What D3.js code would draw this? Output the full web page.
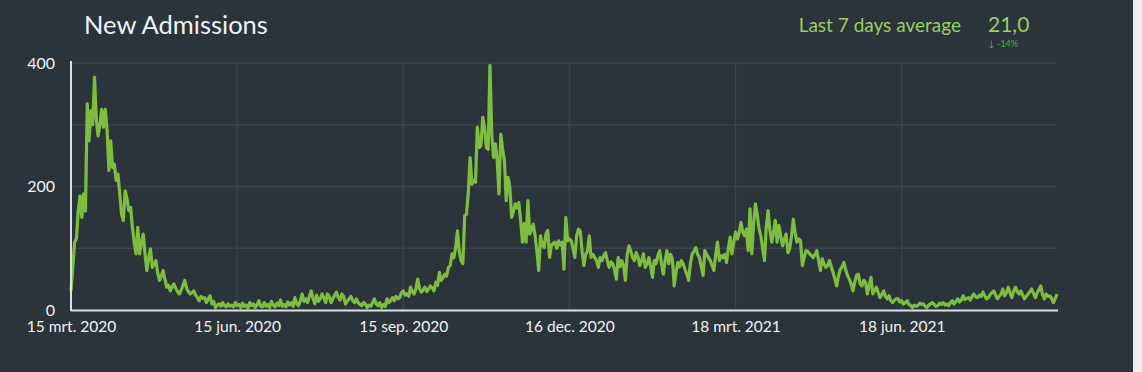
<!DOCTYPE html>
<html>
<head>
<meta charset="utf-8">
<script src="https://cdn.jsdelivr.net/npm/d3@7"></script>
<style>
  html, body { margin: 0; padding: 0; background: #eeeeee; }
  svg { display: block; font-family: Lato, "Open Sans", sans-serif; }
</style>
</head>
<body>
<svg id="chart" width="1142" height="372"></svg>
<script>
// daily new admissions, starting 15 mrt. 2020
const startDate = "2020-03-15";
const admissions = [
  31,70,110,115,160,185,150,188,160,334,
  274,323,300,377,310,282,300,325,296,325,
  290,226,274,231,236,210,220,188,155,145,
  193,180,161,166,134,110,91,134,91,110,
  123,90,64,85,99,69,75,80,60,48,
  55,64,50,37,40,31,38,42,35,30,
  26,32,40,48,35,30,26,28,31,24,
  20,15,22,19,20,12,18,23,10,14,
  4,8,10,6,12,7,5,10,6,8,
  5,12,7,9,4,11,6,8,3,12,
  7,10,4,8,15,6,5,12,6,9,
  4,14,8,5,11,7,16,6,9,5,
  13,8,12,6,20,10,7,15,26,14,
  18,12,22,31,19,10,24,14,18,26,
  20,12,26,22,12,18,24,29,20,16,
  26,22,10,14,18,22,15,12,18,12,
  9,7,12,10,4,8,6,12,18,10,
  7,12,4,9,6,18,12,15,20,15,
  22,18,20,28,31,24,26,22,37,30,
  26,34,50,35,29,32,37,30,34,39,
  36,31,45,40,61,48,52,58,55,69,
  72,91,85,101,128,95,80,75,153,155,
  190,247,204,210,207,296,263,266,312,296,
  263,260,396,285,247,269,242,188,285,260,
  242,177,215,200,150,160,172,165,174,145,
  110,140,110,177,123,130,139,120,95,64,
  120,105,101,123,129,85,104,108,110,100,
  112,105,110,66,150,112,115,112,100,85,
  120,131,128,95,72,90,96,120,85,90,
  85,80,69,85,80,88,93,80,69,78,
  75,65,50,85,70,80,72,48,90,104,
  95,85,80,93,85,72,80,91,69,75,
  85,70,53,80,75,88,96,75,58,80,
  96,75,90,83,39,60,77,70,80,75,
  66,58,48,75,91,95,101,90,85,70,
  56,96,90,85,80,72,64,90,110,80,
  88,85,90,77,100,118,91,110,126,115,
  125,142,126,120,131,96,164,91,140,172,
  155,131,120,100,80,134,161,130,110,125,
  145,110,137,120,104,115,123,93,100,120,
  147,125,110,115,112,72,85,96,95,91,
  88,85,90,96,80,64,83,75,69,72,
  80,70,61,50,39,55,66,70,77,65,
  56,50,42,31,45,56,58,42,39,48,
  45,26,40,53,26,32,37,28,20,25,
  31,22,18,23,15,12,16,18,18,13,
  15,10,12,15,9,7,4,8,6,7,
  11,9,10,6,4,8,10,12,9,6,
  7,11,9,12,8,10,7,12,15,10,
  14,18,13,16,23,17,19,20,16,22,
  26,21,20,24,22,29,23,18,20,25,
  28,31,24,18,22,26,34,23,28,37,
  28,20,30,37,30,26,31,24,18,22,
  26,30,34,27,20,28,33,39,25,18,
  26,22,23,19,12,18,26
];

const tickDates = ["2020-03-15", "2020-06-15", "2020-09-15", "2020-12-16", "2021-03-18", "2021-06-18"];
const tickLabels = ["15 mrt. 2020", "15 jun. 2020", "15 sep. 2020", "16 dec. 2020", "18 mrt. 2021", "18 jun. 2021"];
const yGrid = [0, 100, 200, 300, 400];
const yLabels = [0, 200, 400];

const title = "New Admissions";
const avgLabel = "Last 7 days average";
const avgValue = "21,0";
const avgChange = "-14%";

const svg = d3.select("#chart");
const width = 1142;
const height = 372;

const parse = d3.utcParse("%Y-%m-%d");
const t0 = parse(startDate);
const data = admissions.map(function (v, i) {
    return { date: d3.utcDay.offset(t0, i), value: v };
});

const x = d3.scaleUtc()
    .domain([t0, data[data.length - 1].date])
    .range([71, 1057]);

const y = d3.scaleLinear()
    .domain([0, 400])
    .range([310, 63]);

// dark panel
svg.append("rect")
    .attr("width", 1133)
    .attr("height", height)
    .attr("fill", "#2b333b");

// grid
svg.append("g")
    .selectAll("line")
    .data(yGrid.slice(1))
    .enter()
    .append("line")
    .attr("x1", 71)
    .attr("x2", 1057)
    .attr("y1", function (d) { return y(d); })
    .attr("y2", function (d) { return y(d); })
    .attr("stroke", "#3b434c")
    .attr("stroke-width", 1.5);

svg.append("g")
    .selectAll("line")
    .data(tickDates.slice(1))
    .enter()
    .append("line")
    .attr("x1", function (d) { return x(parse(d)); })
    .attr("x2", function (d) { return x(parse(d)); })
    .attr("y1", y(400))
    .attr("y2", y(0))
    .attr("stroke", "#3b434c")
    .attr("stroke-width", 1.5);

// x axis
const xAxis = d3.axisBottom(x)
    .tickValues(tickDates.map(parse))
    .tickFormat(function (d, i) { return tickLabels[i]; })
    .tickSize(0)
    .tickPadding(11);

const gx = svg.append("g")
    .attr("transform", "translate(0," + y(0) + ")")
    .call(xAxis);
gx.select(".domain").remove();
gx.selectAll("text")
    .attr("fill", "#f4f4f4")
    .attr("font-size", 15.5)
    .attr("font-family", "Lato, sans-serif");

// y axis
const yAxis = d3.axisLeft(y)
    .tickValues(yLabels)
    .tickSize(0)
    .tickPadding(16);

const gy = svg.append("g")
    .attr("transform", "translate(71,0)")
    .call(yAxis);
gy.select(".domain").remove();
gy.selectAll("text")
    .attr("fill", "#f4f4f4")
    .attr("font-size", 16)
    .attr("font-family", "Lato, sans-serif");

// line
const line = d3.line()
    .x(function (d) { return x(d.date); })
    .y(function (d) { return y(d.value); });

svg.append("path")
    .datum(data)
    .attr("fill", "none")
    .attr("stroke", "#7ebd40")
    .attr("stroke-width", 3.2)
    .attr("stroke-linejoin", "round")
    .attr("d", line);

// axis lines on top
svg.append("line")
    .attr("x1", 71).attr("x2", 1058)
    .attr("y1", 310.5).attr("y2", 310.5)
    .attr("stroke", "#dde1e5")
    .attr("stroke-width", 2);
svg.append("line")
    .attr("x1", 71).attr("x2", 71)
    .attr("y1", 61).attr("y2", 311)
    .attr("stroke", "#dde1e5")
    .attr("stroke-width", 2);

// header
svg.append("text")
    .attr("x", 84)
    .attr("y", 34)
    .attr("fill", "#f0f2f4")
    .attr("font-size", 25.5)
    .text(title);

svg.append("text")
    .attr("x", 961)
    .attr("y", 32)
    .attr("text-anchor", "end")
    .attr("fill", "#9ccc65")
    .attr("font-size", 19)
    .text(avgLabel);

svg.append("text")
    .attr("x", 988)
    .attr("y", 32)
    .attr("fill", "#9ccc65")
    .attr("font-size", 21)
    .text(avgValue);

svg.append("text")
    .attr("x", 988)
    .attr("y", 47)
    .attr("fill", "#4caf50")
    .attr("font-size", 9)
    .text("\u2193 " + avgChange);
</script>
</body>
</html>
